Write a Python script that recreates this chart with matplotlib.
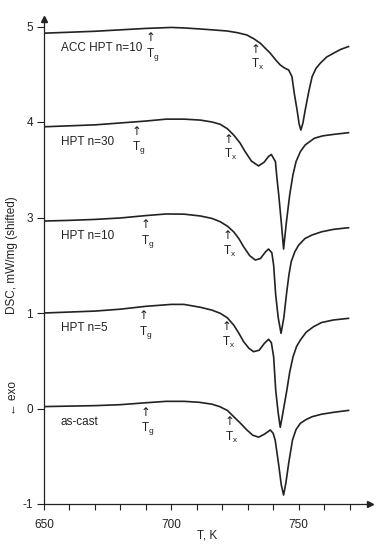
import matplotlib
matplotlib.use('Agg')
import matplotlib.pyplot as plt
import numpy as np

plt.rcParams['font.family'] = ['Liberation Sans', 'DejaVu Sans']
plt.rcParams['mathtext.fontset'] = 'custom'
plt.rcParams['mathtext.rm'] = 'Liberation Sans'
plt.rcParams['mathtext.it'] = 'Liberation Sans'

ink = '#222222'

# DSC traces (T in K, signal in shifted units)
as_cast_T = [650, 660, 670, 680, 690, 698, 705, 711, 716, 719, 722, 724.5, 727, 729.7, 732, 734.3, 736.5,
             738.9, 740, 740.8, 742.1, 743.2, 744.1, 745, 746.1, 747.6, 749, 750.7, 753, 755.3, 759, 763.7, 769.6]
as_cast_y = [0.02, 0.025, 0.03, 0.04, 0.06, 0.075, 0.075, 0.065, 0.045, 0.02, -0.02, -0.085, -0.15, -0.225,
             -0.28, -0.30, -0.27, -0.225, -0.26, -0.33, -0.574, -0.80, -0.906, -0.78, -0.574, -0.33, -0.22,
             -0.155, -0.115, -0.086, -0.06, -0.04, -0.02]

n5_T = [650, 660, 670, 680, 690, 700, 705, 711.4, 716, 719.2, 722, 724.5, 726.5, 728.4, 730.5, 732.3, 734.5,
        736.5, 738.2, 739.3, 740.2, 741, 742, 742.8, 743.8, 745.4, 746.5, 747.8, 749.2, 750.7, 753, 755.9,
        759, 763.7, 769.6]
n5_y = [1.0, 1.01, 1.02, 1.04, 1.07, 1.09, 1.09, 1.06, 1.03, 0.997, 0.95, 0.874, 0.79, 0.70, 0.63, 0.595,
        0.61, 0.68, 0.725, 0.69, 0.54, 0.194, -0.05, -0.197, -0.05, 0.194, 0.38, 0.54, 0.65, 0.717, 0.80,
        0.857, 0.90, 0.927, 0.944]

n10_T = [650, 660, 670, 680, 690, 698, 705, 711.4, 716, 719.2, 722, 724.5, 726.5, 728.4, 730.8, 733, 735,
         737, 738.2, 739.5, 740.2, 741, 742, 743.1, 744.2, 745.2, 746.2, 747.1, 748.5, 750, 752.5, 755.3,
         759, 763.7, 769.6]
n10_y = [1.963, 1.97, 1.98, 1.995, 2.02, 2.037, 2.035, 2.016, 1.99, 1.956, 1.91, 1.85, 1.78, 1.694, 1.60,
         1.555, 1.57, 1.64, 1.67, 1.63, 1.50, 1.19, 0.95, 0.787, 0.95, 1.19, 1.40, 1.537, 1.64, 1.71, 1.78,
         1.817, 1.85, 1.876, 1.893]

n30_T = [650, 660, 670, 680, 690, 698, 705, 711.4, 716, 719.2, 722, 724.5, 727, 729, 731.5, 734.3, 736.5,
         738.2, 739.3, 740.9, 741.5, 742.2, 743.2, 744.1, 745.2, 746.5, 747.8, 749, 750.7, 752.6, 756.2,
         759.5, 763.7, 769.6]
n30_y = [2.95, 2.96, 2.97, 2.99, 3.01, 3.03, 3.03, 3.02, 3.0, 2.976, 2.93, 2.864, 2.78, 2.69, 2.59, 2.54,
         2.58, 2.64, 2.66, 2.585, 2.41, 2.236, 1.95, 1.67, 1.95, 2.236, 2.45, 2.585, 2.69, 2.76, 2.83, 2.855,
         2.87, 2.888]

acc_T = [650, 660, 670, 680, 690, 700, 705, 711.4, 716, 721.9, 726, 729.7, 732.5, 735, 737, 738.9, 741,
         742.8, 744.5, 746.1, 747.4, 748.3, 749.4, 750.2, 750.9, 751.7, 752.6, 754, 755.3, 756.8, 758.5,
         761, 763.7, 766.5, 769.6]
acc_y = [3.93, 3.94, 3.95, 3.965, 3.98, 3.99, 3.985, 3.974, 3.965, 3.953, 3.935, 3.911, 3.87, 3.824, 3.77,
         3.72, 3.65, 3.597, 3.565, 3.545, 3.474, 3.30, 3.126, 2.98, 2.916, 2.99, 3.126, 3.32, 3.474, 3.56,
         3.615, 3.68, 3.72, 3.76, 3.79]

names = ['as-cast', 'HPT n=5', 'HPT n=10', 'HPT n=30', 'ACC HPT n=10']
Tg = [690, 689, 690, 686.3, 691.7]
Tx = [722.9, 721.9, 722.1, 722.5, 733]

ytick_pos = [-1, 0, 1, 2, 3, 4]
ytick_lab = ['-1', '0', '1', '3', '4', '5']

curves = [(as_cast_T, as_cast_y), (n5_T, n5_y), (n10_T, n10_y), (n30_T, n30_y), (acc_T, acc_y)]

fig = plt.figure(figsize=(3.92, 5.5), dpi=100)
ax = fig.add_axes([44/392, 46/550, 326/392, 485/550])

for (T, y), name, tg, tx in zip(curves, names, Tg, Tx):
    ax.plot(T, y, color=ink, lw=1.2)
    ax.text(656.5, y[0] - 0.16, name, fontsize=8.5, color=ink, va='center', ha='left')
    for t, sub in ((tg, 'g'), (tx, 'x')):
        yc = np.interp(t, T, y)
        ax.annotate('↑', (t, yc), xytext=(0, -2), textcoords='offset points',
                    ha='center', va='top', fontsize=8.5, color=ink, family='DejaVu Sans')
        ax.annotate('T$_\\mathrm{%s}$' % sub, (t, yc), xytext=(1.5, -12.5), textcoords='offset points',
                    ha='center', va='top', fontsize=8.5, color=ink)

ax.set_xlim(650, 650 + 326/2.546)
ax.set_ylim(-1, -1 + 485/95.5)
ax.set_xticks([650, 700, 750])
ax.set_xticks(np.arange(660, 780, 10), minor=True)
ax.set_yticks(ytick_pos)
ax.set_yticklabels(ytick_lab)
ax.tick_params(axis='x', which='both', direction='out', length=4, width=0.8, color=ink,
               labelsize=8.5, labelcolor=ink, pad=7)
ax.tick_params(axis='y', direction='out', length=5, width=0.8, color=ink,
               labelsize=8.5, labelcolor=ink, pad=3)

for s in ['top', 'right']:
    ax.spines[s].set_visible(False)
for s in ['left', 'bottom']:
    ax.spines[s].set_color(ink)
    ax.spines[s].set_linewidth(0.9)

# arrow heads on the axes
ax.plot(1, 0, '>', color=ink, ms=4, transform=ax.transAxes, clip_on=False)
ax.plot(0, 1, '^', color=ink, ms=4, transform=ax.transAxes, clip_on=False)

ax.set_xlabel('T, K', fontsize=8.5, color=ink, labelpad=-1)
fig.text(12/392, 1 - 255/550, 'DSC, mW/mg (shifted)', rotation=90, fontsize=8.5, color=ink,
         ha='center', va='center')
fig.text(13/392, 1 - 398/550, '← exo', rotation=90, fontsize=8.5, color=ink,
         ha='center', va='center', family=['Liberation Sans', 'DejaVu Sans'])

fig.savefig('out.png', dpi=100)
